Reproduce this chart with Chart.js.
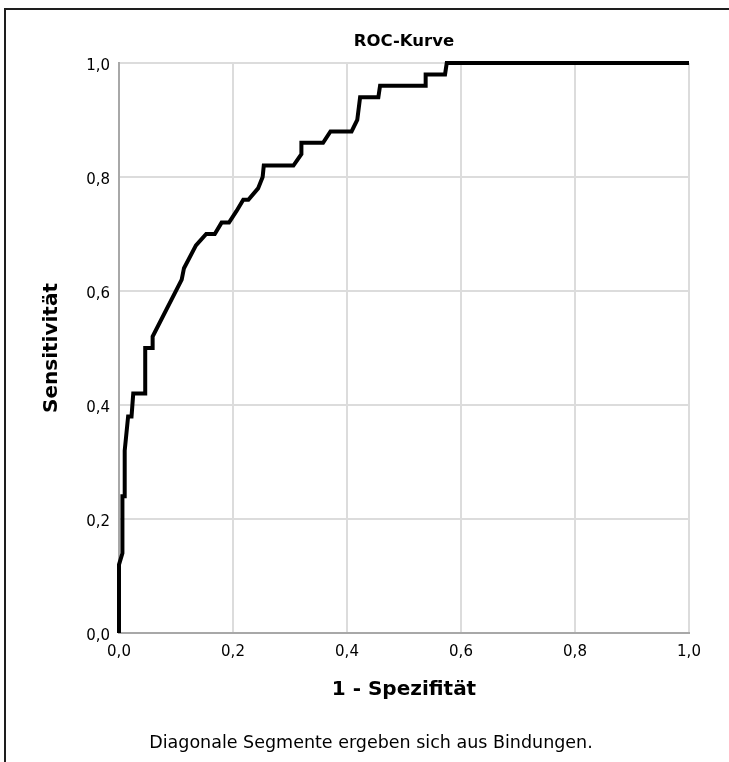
<!DOCTYPE html>
<html><head><meta charset="utf-8">
<script src="https://cdn.jsdelivr.net/npm/chart.js@4"></script>
<style>
html,body{margin:0;padding:0;background:#fff;overflow:hidden;}
#wrap{position:relative;width:729px;height:762px;overflow:hidden;}
canvas{position:absolute;left:0;top:0;}
#frame{position:absolute;left:4px;top:8px;width:900px;height:900px;border-left:2px solid #1e1e1e;border-top:2px solid #1e1e1e;pointer-events:none;}
</style></head><body>
<div id="wrap"><canvas id="c" width="729" height="762"></canvas><div id="frame"></div></div>
<script>
const titleText = 'ROC-Kurve';
const xTitle = '1 - Spezifität';
const yTitle = 'Sensitivität';
const footnote = 'Diagonale Segmente ergeben sich aus Bindungen.';
const tickValues = [0, 0.2, 0.4, 0.6, 0.8, 1.0];
const tickLabels = ['0,0', '0,2', '0,4', '0,6', '0,8', '1,0'];
// 1 - Spezifität (false positive rate)
const fpr = [0, 0, 0.006, 0.006, 0.010, 0.010, 0.016, 0.022, 0.025, 0.046, 0.046, 0.059, 0.059,
  0.110, 0.114, 0.135, 0.153, 0.168, 0.180, 0.193, 0.206, 0.218, 0.227, 0.244, 0.252, 0.254,
  0.306, 0.320, 0.320, 0.358, 0.371, 0.408, 0.418, 0.423, 0.455, 0.458, 0.538, 0.538, 0.572, 0.575, 1.0];
// Sensitivität (true positive rate)
const tpr = [0, 0.12, 0.14, 0.24, 0.24, 0.32, 0.38, 0.38, 0.42, 0.42, 0.50, 0.50, 0.52,
  0.62, 0.64, 0.68, 0.70, 0.70, 0.72, 0.72, 0.74, 0.76, 0.76, 0.78, 0.80, 0.82,
  0.82, 0.84, 0.86, 0.86, 0.88, 0.88, 0.90, 0.94, 0.94, 0.96, 0.96, 0.98, 0.98, 1.0, 1.0];

const F = '"DejaVu Sans", sans-serif';
const setTicks = s => { s.ticks = tickValues.map(v => ({ value: v })); };
const gridOpt = { color: '#dcdcdc', lineWidth: 2, drawTicks: false };
const borderOpt = { color: '#a8a8a8', width: 2 };

new Chart(document.getElementById('c'), {
  type: 'scatter',
  data: {
    datasets: [{
      data: fpr.map((x, i) => ({ x: x, y: tpr[i] })),
      showLine: true,
      borderColor: '#000',
      borderWidth: 4,
      pointRadius: 0,
      borderJoinStyle: 'miter',
      tension: 0,
      clip: false
    }]
  },
  options: {
    responsive: false,
    animation: false,
    devicePixelRatio: 1,
    layout: { padding: { left: 13, right: 0, top: 0, bottom: 0 } },
    plugins: {
      legend: { display: false },
      tooltip: { enabled: false },
      title: {
        display: true, text: titleText, fullSize: false, color: '#000',
        font: { family: F, size: 16.5, weight: 'bold' },
        padding: { top: 31.5, bottom: 11.7 }
      },
      subtitle: {
        display: true, text: footnote, position: 'bottom', fullSize: true, color: '#000',
        font: { family: F, size: 17.5, weight: 'normal' },
        padding: { top: 0, bottom: 8.5 }
      }
    },
    scales: {
      x: {
        type: 'linear', min: 0, max: 1,
        afterBuildTicks: setTicks,
        ticks: { callback: (v, i) => tickLabels[i], color: '#000', font: { family: F, size: 15 }, padding: 10, maxRotation: 0, autoSkip: false },
        grid: gridOpt, border: borderOpt,
        title: { display: true, text: xTitle, color: '#000', font: { family: F, size: 20, weight: 'bold' }, padding: { top: 0, bottom: 30.5 } },
        afterFit: s => { s.height = 99.5; s.paddingRight = 40; }
      },
      y: {
        type: 'linear', min: 0, max: 1,
        afterBuildTicks: setTicks,
        ticks: { callback: (v, i) => tickLabels[i], color: '#000', font: { family: F, size: 15 }, padding: 9, labelOffset: 3, autoSkip: false },
        grid: gridOpt, border: borderOpt,
        title: { display: true, text: yTitle, color: '#000', font: { family: F, size: 20, weight: 'bold' }, padding: { top: 27, bottom: 0 } },
        afterFit: s => { s.width = 106; }
      }
    }
  }
});
</script>
</body></html>
